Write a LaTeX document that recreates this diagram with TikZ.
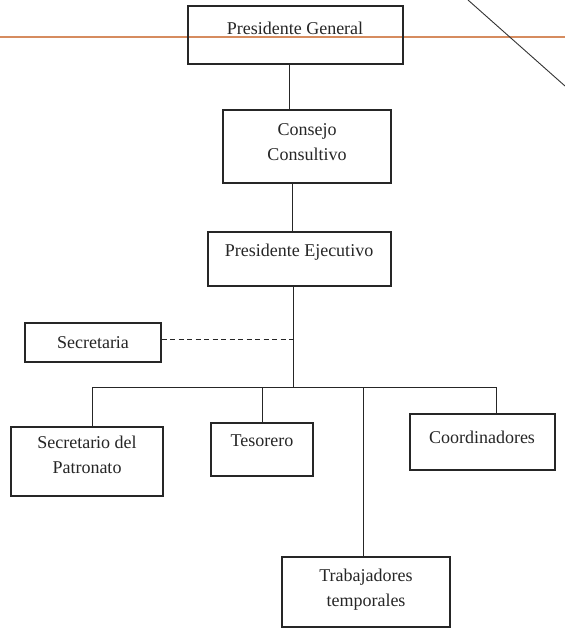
\documentclass[tikz,border=0pt]{standalone}
\usepackage{fontspec}
\setmainfont{Liberation Serif}
\begin{document}
\begin{tikzpicture}[x=1pt,y=-1pt,
  box/.style={draw=black!85, line width=1.1pt, inner sep=0pt},
  txt/.style={font=\fontsize{18}{25}\selectfont, align=center, inner sep=0pt, text=black!85},
  conn/.style={draw=black!85, line width=1pt},
  dashconn/.style={draw=black!85, line width=1pt, dash pattern=on 5pt off 3.5pt}]
\useasboundingbox (0,0) rectangle (565,635);
\fill[white] (0,0) rectangle (565,635);
% scan artefacts
\draw[line width=2pt, color={rgb,255:red,214;green,140;blue,95}] (0,37) -- (565,37);
\draw[line width=0.9pt, black!80] (468,0) -- (565,86);
% boxes
\node[box, minimum width=215, minimum height=58] (pg) at (295.5,35) {};
\node[txt] (pgt) at (295,28) {Presidente General};
\node[box, minimum width=168, minimum height=73] (cc) at (307,146.5) {};
\node[txt] (cct) at (307,142) {Consejo\\Consultivo};
\node[box, minimum width=183, minimum height=54] (pe) at (299.5,259) {};
\node[txt] (pet) at (299,252) {Presidente Ejecutivo};
\node[box, minimum width=136, minimum height=39] (se) at (93,342.5) {};
\node[txt] (set) at (93,343) {Secretaria};
\node[box, minimum width=152, minimum height=69] (sp) at (87,461.5) {};
\node[txt] (spt) at (87,455) {Secretario del\\Patronato};
\node[box, minimum width=102, minimum height=53] (te) at (262,449.5) {};
\node[txt] (tet) at (262,441) {Tesorero};
\node[box, minimum width=145, minimum height=56] (co) at (482.5,442) {};
\node[txt] (cot) at (482,437) {Coordinadores};
\node[box, minimum width=168, minimum height=70] (tr) at (366,592) {};
\node[txt] (trt) at (366,590) {Trabajadores\\temporales};
% junction coordinates
\coordinate (x1) at (289,0);
\coordinate (x2) at (292,0);
\coordinate (bus) at (293,387);
\coordinate (busl) at (92,387);
\coordinate (busr) at (496,387);
\coordinate (xt) at (262,0);
\coordinate (xw) at (363,0);
% connectors
\draw[conn] (pg.south -| x1) -- (cc.north -| x1);
\draw[conn] (cc.south -| x2) -- (pe.north -| x2);
\draw[conn] (pe.south -| bus) -- (bus);
\draw[dashconn] (se.east |- 0,339) -- (bus |- 0,339);
\draw[conn] (busl) -- (busr);
\draw[conn] (busl) -- (sp.north -| busl);
\draw[conn] (busl -| xt) -- (te.north -| xt);
\draw[conn] (busl -| xw) -- (tr.north -| xw);
\draw[conn] (busr) -- (co.north -| busr);
\end{tikzpicture}
\end{document}
